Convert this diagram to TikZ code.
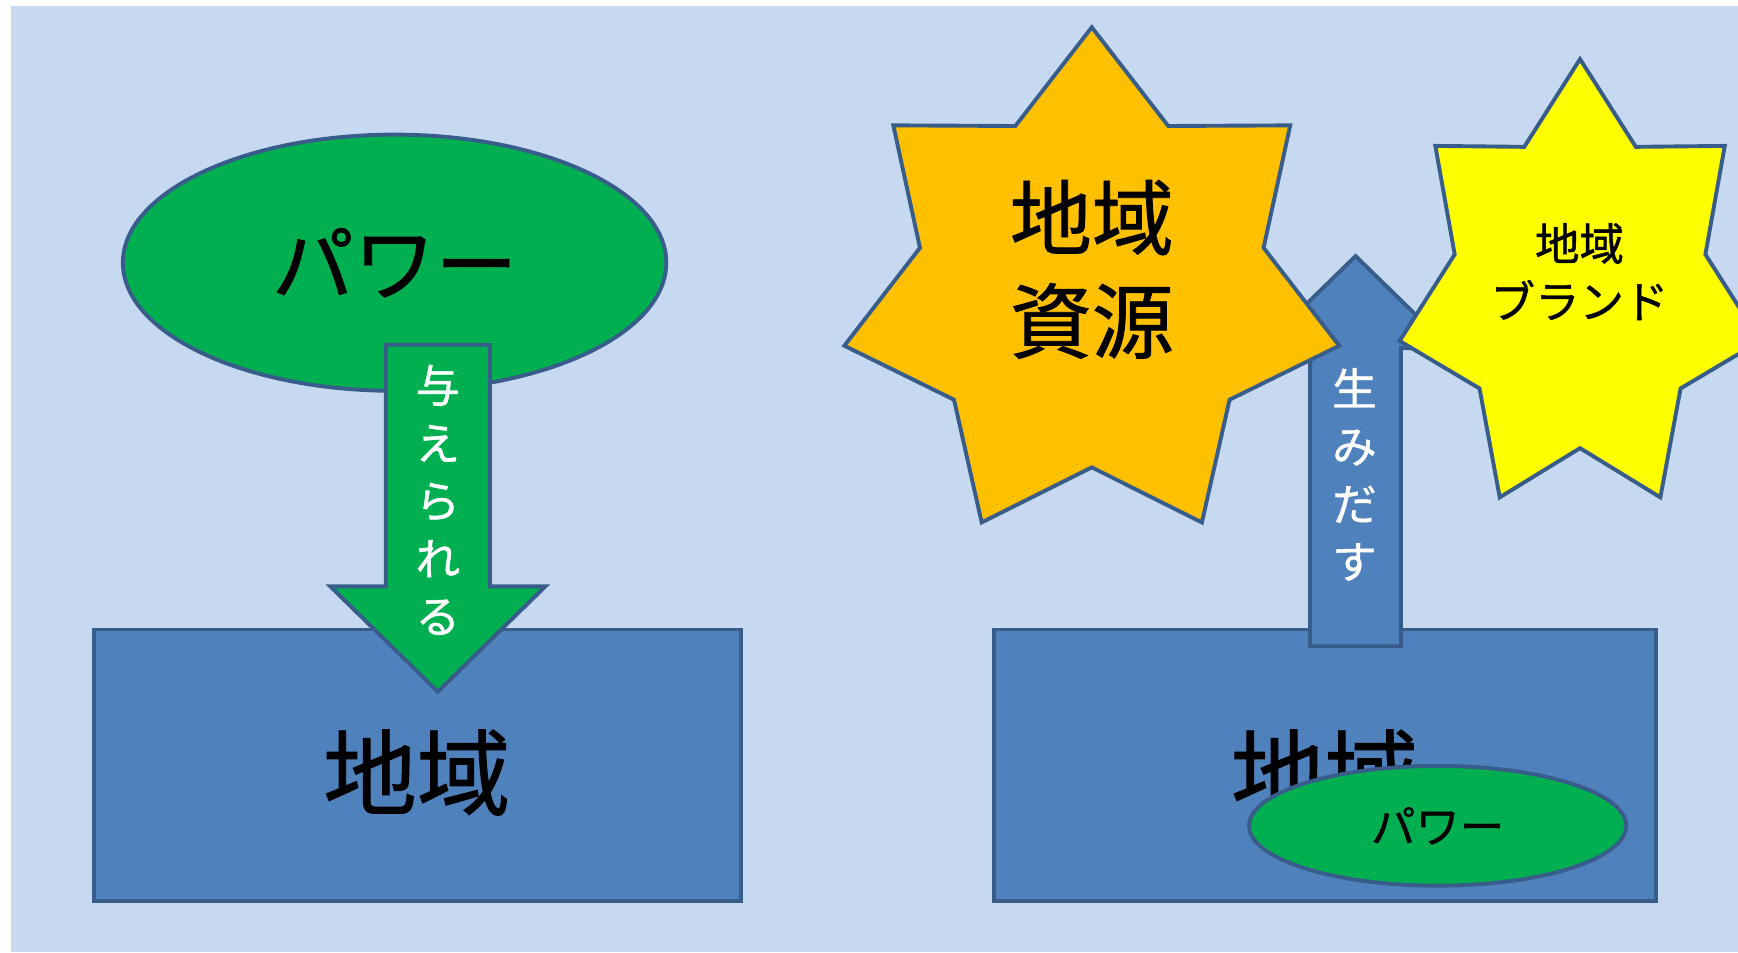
\documentclass[tikz,border=0pt]{standalone}
\usepackage{fontspec}
\setmainfont{Noto Sans CJK JP}[FakeBold=1]
\usepackage{tikz}
\usetikzlibrary{shapes.geometric,calc}
\definecolor{bgBlue}{HTML}{C6D9F1}
\definecolor{edgeBlue}{HTML}{385D8A}
\definecolor{boxBlue}{HTML}{4F81BD}
\definecolor{powerGreen}{HTML}{00B050}
\definecolor{resOrange}{HTML}{FFC000}
\definecolor{brandYellow}{HTML}{FFFF00}
\tikzset{
    areaBox/.style={
        ,   rectangle
        ,   draw=edgeBlue
        ,   fill=boxBlue
        ,   minimum width=#1
        ,   minimum height=2.45cm
        ,   inner sep=0pt
    },
    powerEll/.style={
        ,   ellipse
        ,   draw=edgeBlue
        ,   fill=powerGreen
        ,   inner sep=0pt
    },
    blockArrow/.style={
        ,   draw=edgeBlue
        ,   fill=#1
    },
    starShape/.style={
        ,   draw=edgeBlue
        ,   fill=#1
    },
    bigText/.style={font=\fontsize{21pt}{26.5pt}\selectfont, align=center},
    areaText/.style={font=\fontsize{24pt}{28pt}\selectfont},
    smallText/.style={font=\fontsize{11.4pt}{14.8pt}\selectfont, align=center},
}

\begin{document}
\begin{tikzpicture}[x=0.01cm, y=-0.01cm, line width=1pt, line join=miter]
	\useasboundingbox (0,0) rectangle (1568,859);
	\clip (0,0) rectangle (1568,859);
	\fill[white] (0,0) rectangle (1568,859);
	\fill[bgBlue] (10,5) rectangle (1568,859);

	% left half: power is given to the region
	\node[powerEll, minimum width=4.9cm, minimum height=2.31cm, bigText] (powerL) at (356,237) {パワー};
	\node[areaBox=5.83cm] (areaL) at (376.5,690.5) {};
	\node[areaText] (areaLtext) at (376,697) {地域};
	\draw[blockArrow=powerGreen] (348,311) -- (442,311) -- (442,529) -- (492,529) -- (395,624) -- (298,529) -- (348,529) -- cycle;
	\node[smallText, text=white] (giveText) at (395,451) {与\\え\\ら\\れ\\る};

	% right half: the region creates its own
	\node[areaBox=5.97cm] (areaR) at (1195.5,690.5) {};
	\node[areaText] (areaRtext) at (1195,697) {地域};
	\node[powerEll, minimum width=3.4cm, minimum height=1.08cm, smallText] (powerR) at (1297,745) {パワー};
	\draw[blockArrow=boxBlue] (1182,583) -- (1182,314) -- (1138,314) -- (1223,231) -- (1308,314) -- (1264,314) -- (1264,583) -- cycle;
	\node[smallText, text=white] (createText) at (1222,428) {生\\み\\だ\\す};

	\coordinate (resC) at (985,259.6);
	\draw[starShape=resOrange] ($(resC)+(-90:229 and 235)$)
		\foreach \k [evaluate=\k as \rx using {isodd(\k) ? 159 : 229},
		             evaluate=\k as \ry using {isodd(\k) ? 162 : 235}] in {1,...,13}{
		-- ($(resC)+(-90+\k*180/7:{\rx} and {\ry})$)} -- cycle;
	\node[bigText] (resText) at (985,243) {地域\\資源};

	\coordinate (brandC) at (1425.5,261.3);
	\draw[starShape=brandYellow] ($(brandC)+(-90:167 and 208)$)
		\foreach \k [evaluate=\k as \rx using {isodd(\k) ? 116 : 167},
		             evaluate=\k as \ry using {isodd(\k) ? 143 : 208}] in {1,...,13}{
		-- ($(brandC)+(-90+\k*180/7:{\rx} and {\ry})$)} -- cycle;
	\node[smallText] (brandText) at (1425,245) {地域\\ブランド};
\end{tikzpicture}
\end{document}
